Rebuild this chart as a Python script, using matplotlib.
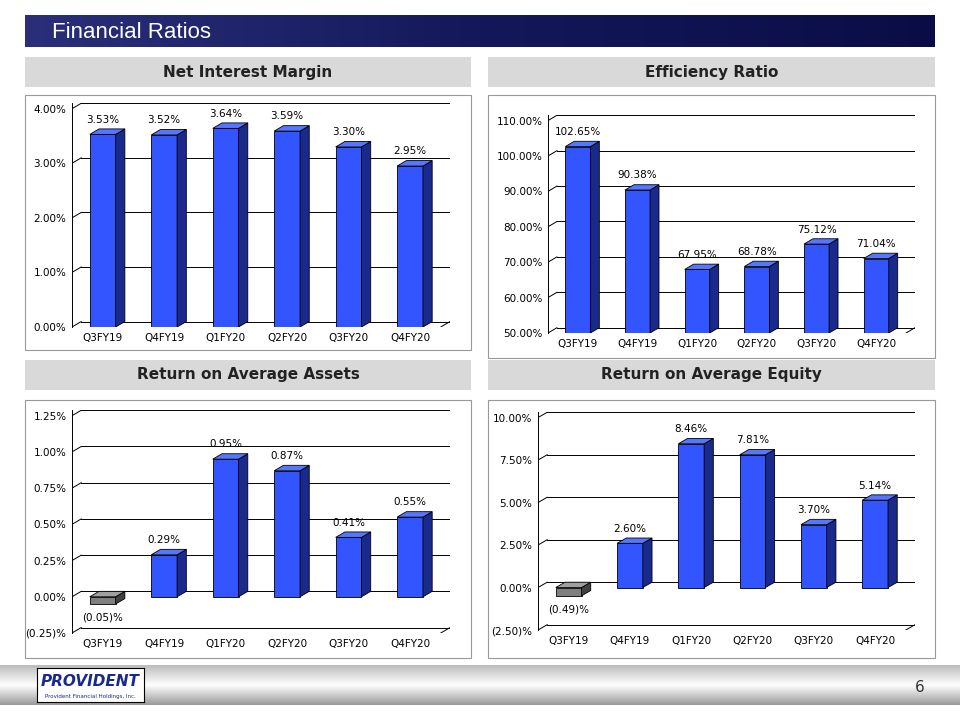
import matplotlib
matplotlib.use("Agg")
import matplotlib.pyplot as plt
from matplotlib.patches import Polygon, Rectangle
import numpy as np

quarters = ["Q3FY19", "Q4FY19", "Q1FY20", "Q2FY20", "Q3FY20", "Q4FY20"]
nim = [3.53, 3.52, 3.64, 3.59, 3.30, 2.95]
eff = [102.65, 90.38, 67.95, 68.78, 75.12, 71.04]
roa = [-0.05, 0.29, 0.95, 0.87, 0.41, 0.55]
roe = [-0.49, 2.60, 8.46, 7.81, 3.70, 5.14]

def fmt(v):
    return f"({abs(v):.2f})%" if v < 0 else f"{v:.2f}%"

fig = plt.figure(figsize=(9.6, 7.2), dpi=100)
W, H = 960, 720
def fx(x): return x / W
def fy(y): return 1 - y / H

def frect(x0, y0, x1, y1, **kw):
    fig.patches.append(Rectangle((fx(x0), fy(y1)), fx(x1 - x0), (y1 - y0) / H,
                                 transform=fig.transFigure, zorder=-5, **kw))

# title bar
tb = fig.add_axes([fx(25), fy(47), fx(910), (47 - 15) / H])
tb.imshow(np.linspace(0, 1, 256).reshape(1, -1), aspect="auto", cmap=matplotlib.colors.LinearSegmentedColormap.from_list("t", ["#2b2f7a", "#14185a", "#0a0d45"]))
tb.axis("off")
fig.text(fx(52), fy(33), "Financial Ratios", color="white", fontsize=16, va="center", family="Liberation Sans")

# footer
ft = fig.add_axes([fx(0), fy(705), 1, 40 / H])
ft.imshow(np.linspace(0, 1, 64).reshape(-1, 1), aspect="auto", cmap=matplotlib.colors.LinearSegmentedColormap.from_list("f", ["#bdbdbd", "#ffffff", "#9a9a9a"]))
ft.axis("off")
fig.text(fx(915), fy(688), "6", fontsize=11, color="#333333", va="center")
lg = fig.add_axes([fx(37), fy(702), fx(107), 34 / H])
lg.set_xticks([]); lg.set_yticks([])
lg.set_facecolor("white")
lg.text(0.5, 0.6, "PROVIDENT", fontsize=11, fontweight="bold", color="#1a2a8a", ha="center", va="center", style="italic", transform=lg.transAxes)
lg.text(0.5, 0.15, "Provident Financial Holdings, Inc.", fontsize=4, color="#1a2a8a", ha="center", va="center", transform=lg.transAxes)

def header_at(x0, x1, ytop, text):
    frect(x0, ytop, x1, ytop + 30, facecolor="#d9d9d9", edgecolor="none")
    fig.text(fx((x0 + x1) / 2), fy(ytop + 15), text, ha="center", va="center", fontsize=11, fontweight="bold", color="#222222")

header_at(25, 471, 57, "Net Interest Margin")
header_at(488, 935, 57, "Efficiency Ratio")
header_at(25, 471, 360, "Return on Average Assets")
header_at(488, 935, 360, "Return on Average Equity")

def chart(box, vals, ylim, ticks, tlabels, outer):
    ox0, oy0, ox1, oy1 = outer
    frect(ox0, oy0, ox1, oy1, facecolor="white", edgecolor="#999999", lw=0.8)
    x0, y0, x1, y1 = box
    ax = fig.add_axes([fx(x0), fy(y1), fx(x1 - x0), (y1 - y0) / H])
    lo, hi = ylim
    rng = hi - lo
    dx = 0.15
    dy = 0.025 * rng
    n = len(vals)
    ax.set_xlim(-0.5, n - 0.5 + dx)
    ax.set_ylim(lo, hi + dy * 1.05)
    for t in ticks:
        ax.plot([-0.5 + dx, n - 0.5 + dx], [t + dy, t + dy], color="black", lw=0.7, zorder=1)
        ax.plot([-0.5, -0.5 + dx], [t, t + dy], color="black", lw=0.7, zorder=1)
    ax.plot([n - 0.5 + dx, n - 0.5 + dx], [lo + dy, hi + dy], color="black", lw=0.7, zorder=1)
    ax.plot([-0.5, n - 0.5], [lo, lo], color="black", lw=0.7)
    ax.plot([n - 0.5, n - 0.5 + dx], [lo, lo + dy], color="black", lw=0.7)
    w = 0.42
    base = 0.0 if lo < 0 else lo
    for i, v in enumerate(vals):
        xl = i - w / 2
        xr = i + w / 2
        neg = v < 0
        fc = "#7f7f7f" if neg else "#3355ff"
        sc = "#404040" if neg else "#1a2a8c"
        tc = "#a0a0a0" if neg else "#5577ff"
        b, t = min(base, v), max(base, v)
        ax.add_patch(Rectangle((xl, b), w, t - b, facecolor=fc, edgecolor="black", lw=0.6, zorder=3))
        ax.add_patch(Polygon([(xr, b), (xr + dx, b + dy), (xr + dx, t + dy), (xr, t)], facecolor=sc, edgecolor="black", lw=0.6, zorder=3))
        ax.add_patch(Polygon([(xl, t), (xl + dx, t + dy), (xr + dx, t + dy), (xr, t)], facecolor=tc, edgecolor="black", lw=0.6, zorder=3))
        if neg:
            ax.text(i, v - 0.04 * rng, fmt(v), ha="center", va="top", fontsize=7.5, zorder=4)
        else:
            ax.text(i, t + dy + 0.02 * rng, fmt(v), ha="center", va="bottom", fontsize=7.5, zorder=4)
    ax.set_yticks(ticks)
    ax.set_yticklabels(tlabels, fontsize=7.5)
    ax.set_xticks(range(n))
    ax.set_xticklabels(quarters, fontsize=7.5)
    ax.tick_params(length=0, pad=4)
    for s in ["top", "right", "bottom"]:
        ax.spines[s].set_visible(False)
    ax.spines["left"].set_linewidth(0.7)
    ax.set_facecolor("none")

chart((72, 103, 450, 327), nim, (0, 4.0), [0, 1, 2, 3, 4],
      ["0.00%", "1.00%", "2.00%", "3.00%", "4.00%"], (25, 95, 471, 350))
chart((548, 115, 915, 333), eff, (50, 110), [50, 60, 70, 80, 90, 100, 110],
      ["50.00%", "60.00%", "70.00%", "80.00%", "90.00%", "100.00%", "110.00%"], (488, 95, 935, 358))
chart((72, 410, 450, 633), roa, (-0.25, 1.25), [-0.25, 0, 0.25, 0.5, 0.75, 1.0, 1.25],
      ["(0.25)%", "0.00%", "0.25%", "0.50%", "0.75%", "1.00%", "1.25%"], (25, 400, 471, 658))
chart((538, 412, 915, 630), roe, (-2.5, 10), [-2.5, 0, 2.5, 5, 7.5, 10],
      ["(2.50)%", "0.00%", "2.50%", "5.00%", "7.50%", "10.00%"], (488, 400, 935, 658))

fig.savefig("out.png", dpi=100)
